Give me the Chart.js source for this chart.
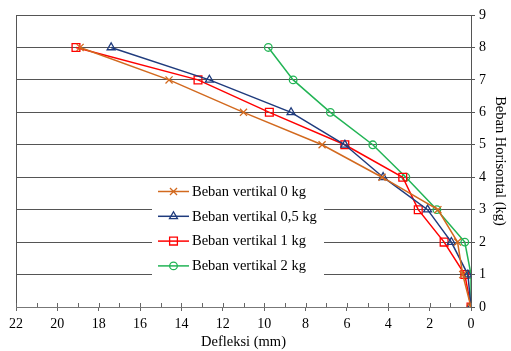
<!DOCTYPE html>
<html>
<head>
<meta charset="utf-8">
<script src="https://cdn.jsdelivr.net/npm/chart.js@4.4.0/dist/chart.umd.min.js"></script>
<style>
  html, body { margin: 0; padding: 0; background: #fff; }
</style>
</head>
<body>
<canvas id="myChart" width="511" height="351"></canvas>
<script>
let loads = [0, 1, 2, 3, 4, 5, 6, 7, 8];
let defl0 = [0, 0.4, 0.65, 1.6, 4.3, 7.2, 11.0, 14.6, 18.9];
let defl05 = [0, 0.15, 0.95, 2.1, 4.25, 6.1, 8.7, 12.65, 17.4];
let defl1 = [0, 0.3, 1.3, 2.55, 3.3, 6.1, 9.75, 13.2, 19.1];
let defl2 = [0, 0, 0.3, 1.65, 3.15, 4.75, 6.8, 8.6, 9.8];

let labels = ['Beban vertikal 0 kg', 'Beban vertikal 0,5 kg', 'Beban vertikal 1 kg', 'Beban vertikal 2 kg'];
let colors = ['#D2691E', '#1F3B7D', '#FF0000', '#22B455'];
let markers = ['crossRot', 'triangle', 'rect', 'circle'];
let radii = [5, 4.6, 5.5, 3.8];

let serif = "'Liberation Serif', 'Times New Roman', serif";

function pts(d) {
    return loads.map((l, i) => ({ x: d[i], y: l }));
}

function drawMarker(ctx, style, r, x, y) {
    ctx.beginPath();
    if (style === 'crossRot') {
        let d = r * Math.SQRT1_2;
        ctx.moveTo(x - d, y - d); ctx.lineTo(x + d, y + d);
        ctx.moveTo(x - d, y + d); ctx.lineTo(x + d, y - d);
    } else if (style === 'triangle') {
        ctx.moveTo(x, y - r);
        ctx.lineTo(x + r * 0.866, y + r / 2);
        ctx.lineTo(x - r * 0.866, y + r / 2);
        ctx.closePath();
    } else if (style === 'rect') {
        let s = r * Math.SQRT1_2;
        ctx.rect(x - s, y - s, 2 * s, 2 * s);
    } else {
        ctx.arc(x, y, r, 0, Math.PI * 2);
    }
    ctx.stroke();
}

// legend box inside the plot + little inner ticks on the x axis
let extras = {
    id: 'extras',
    afterDraw(chart) {
        let ctx = chart.ctx;
        let xs = chart.scales.x;
        let bottom = chart.chartArea.bottom;
        ctx.save();
        ctx.strokeStyle = '#666';
        ctx.lineWidth = 1;
        for (let v = 0; v <= 22; v++) {
            let px = Math.round(xs.getPixelForValue(v)) + 0.5;
            ctx.beginPath();
            ctx.moveTo(px, bottom);
            ctx.lineTo(px, bottom - 4);
            ctx.stroke();
        }

        ctx.fillStyle = '#fff';
        ctx.fillRect(152, 179, 172, 100);
        chart.data.datasets.forEach((ds, i) => {
            let y = 191.5 + i * 24.8;
            ctx.strokeStyle = ds.borderColor;
            ctx.lineWidth = 1.5;
            ctx.beginPath();
            ctx.moveTo(158, y);
            ctx.lineTo(189, y);
            ctx.stroke();
            ctx.lineWidth = 1.3;
            drawMarker(ctx, markers[i], radii[i], 173.5, y);
            ctx.fillStyle = '#000';
            ctx.font = '14.5px ' + serif;
            ctx.textBaseline = 'middle';
            ctx.fillText(ds.label, 192, y + 0.5);
        });
        ctx.restore();
    }
};

let mychart = document.getElementById('myChart').getContext('2d');

let chart = new Chart(mychart, {
    type: 'line',
    data: {
        datasets: labels.map((lab, i) => ({
            label: lab,
            data: pts([defl0, defl05, defl1, defl2][i]),
            borderColor: colors[i],
            backgroundColor: 'rgba(0,0,0,0)',
            pointBorderColor: colors[i],
            pointBackgroundColor: 'rgba(0,0,0,0)',
            pointStyle: markers[i],
            pointRadius: radii[i],
            pointBorderWidth: 1.3,
            borderWidth: 1.5,
            tension: 0,
            fill: false
        }))
    },
    options: {
        responsive: false,
        animation: false,
        layout: { padding: { left: 16, top: 15, right: 0, bottom: 0 } },
        plugins: {
            legend: { display: false },
            tooltip: { enabled: false }
        },
        scales: {
            x: {
                type: 'linear',
                reverse: true,
                min: 0,
                max: 22,
                afterFit(scale) { scale.height = 44; },
                ticks: {
                    stepSize: 1,
                    autoSkip: false,
                    maxRotation: 0,
                    padding: 5,
                    color: '#000',
                    font: { family: serif, size: 14 },
                    callback: v => (v % 2 === 0 ? v : '')
                },
                grid: {
                    color: c => (c.tick && c.tick.value === 22 ? '#555' : 'rgba(0,0,0,0)'),
                    tickColor: c => (c.tick && c.tick.value % 2 === 0 ? '#666' : 'rgba(0,0,0,0)'),
                    tickLength: 4
                },
                border: { display: true, color: '#777' },
                title: {
                    display: true,
                    text: 'Defleksi (mm)',
                    color: '#000',
                    font: { family: serif, size: 14.5 },
                    padding: { top: 0, bottom: 0 }
                }
            },
            y: {
                position: 'right',
                min: 0,
                max: 9,
                afterFit(scale) { scale.width = 40; },
                ticks: {
                    stepSize: 1,
                    padding: 4,
                    color: '#000',
                    font: { family: serif, size: 14 }
                },
                grid: { color: '#555', tickLength: 4 },
                border: { display: true, color: '#555' },
                title: {
                    display: true,
                    text: 'Beban Horisontal (kg)',
                    color: '#000',
                    font: { family: serif, size: 14.5 },
                    padding: { top: 2, bottom: 0 }
                }
            }
        }
    },
    plugins: [extras]
});
</script>
</body>
</html>
